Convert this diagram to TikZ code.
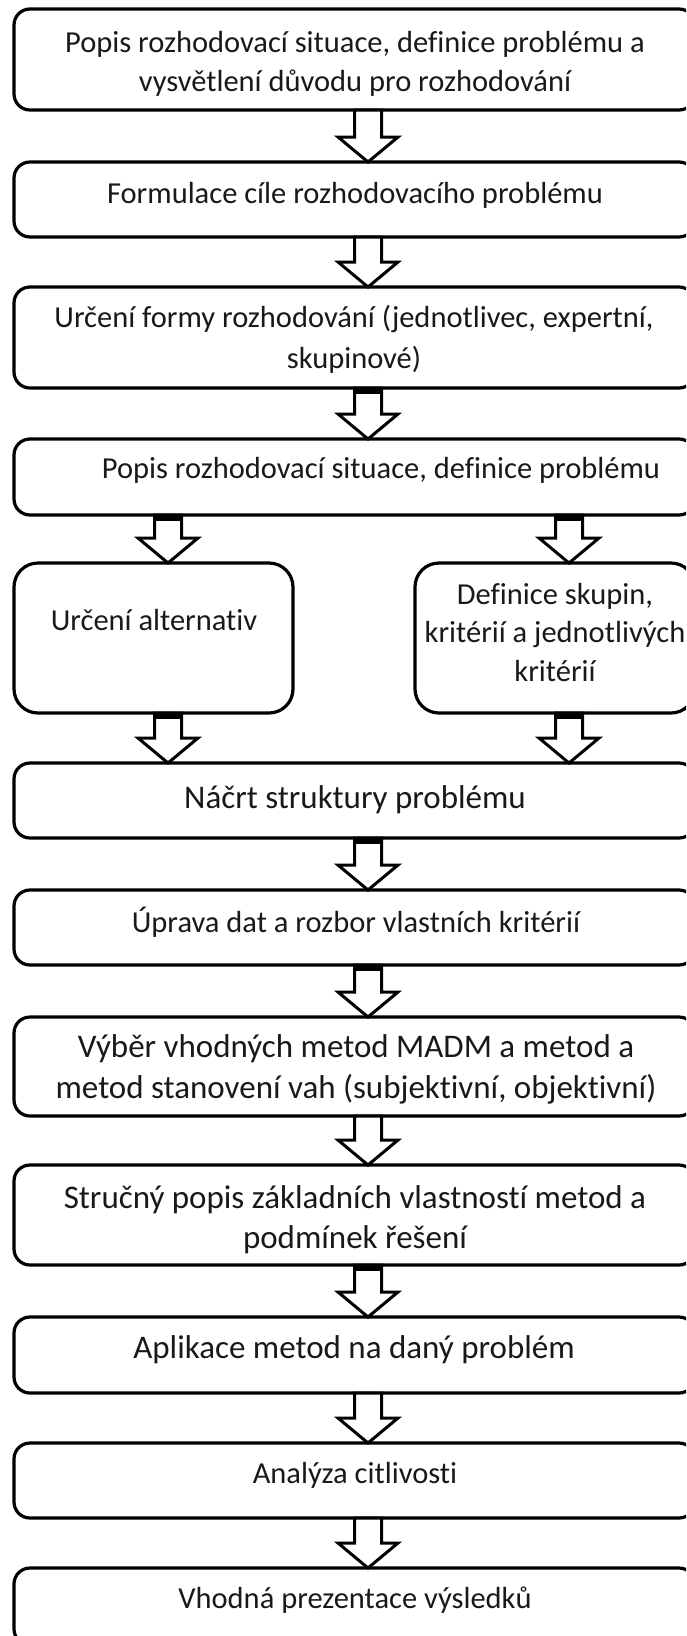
\documentclass[tikz,border=0pt]{standalone}
\usepackage{fontspec}
\setmainfont[Ligatures=NoCommon]{Carlito}
\usetikzlibrary{calc}

% hollow block arrow from the bottom of node #1 to the top of node #2, centred at x=#3
\newcommand\flowarrow[3]{%
  \draw[hollowarrow] let \p1=(#1.south), \p2=(#2.north) in
    ({#3pt-13.5pt},\y1) -- ({#3pt-13.5pt},{\y2+25pt}) -- ({#3pt-30pt},{\y2+25pt})
    -- ({#3pt},\y2) -- ({#3pt+30pt},{\y2+25pt}) -- ({#3pt+13.5pt},{\y2+25pt})
    -- ({#3pt+13.5pt},\y1) -- cycle;}
% same arrow with the dark band where the shaft meets the box above
\newcommand\flowarrowcap[3]{%
  \flowarrow{#1}{#2}{#3}%
  \fill let \p1=(#1.south) in ({#3pt-13.5pt},\y1) rectangle ({#3pt+13.5pt},{\y1-6pt});}

\begin{document}
\begin{tikzpicture}[x=1pt,y=-1pt,
  stepbox/.style={draw=black, line width=3.2pt, rounded corners=16pt,
    inner sep=0pt, outer sep=0pt, fill=white},
  splitbox/.style={stepbox, rounded corners=24pt},
  txt/.style={font=\fontsize{30.5}{36}\selectfont, inner sep=0pt, anchor=base, text=black!90},
  bigtxt/.style={txt, font=\fontsize{33}{40}\selectfont},
  hollowarrow/.style={draw=black, fill=white, line width=3pt, line join=miter}]

\useasboundingbox (0,0) rectangle (686,1636);
\clip (0,0) rectangle (686,1636);

% boxes
\node[stepbox, minimum width=681pt, minimum height=101pt] (b1) at (354.5,59.5) {};
\node[stepbox, minimum width=681pt, minimum height=75pt] (b2) at (354.5,199.5) {};
\node[stepbox, minimum width=681pt, minimum height=101pt] (b3) at (354.5,337.5) {};
\node[stepbox, minimum width=681pt, minimum height=76pt] (b4) at (354.5,477) {};
\node[splitbox, minimum width=279pt, minimum height=150pt] (bl) at (153.5,638) {};
\node[splitbox, minimum width=280pt, minimum height=150pt] (br) at (555,638) {};
\node[stepbox, minimum width=681pt, minimum height=75pt] (b6) at (354.5,800.5) {};
\node[stepbox, minimum width=681pt, minimum height=75pt] (b7) at (354.5,927.5) {};
\node[stepbox, minimum width=681pt, minimum height=99pt] (b8) at (354.5,1066.5) {};
\node[stepbox, minimum width=681pt, minimum height=100pt] (b9) at (354.5,1215) {};
\node[stepbox, minimum width=681pt, minimum height=76pt] (b10) at (354.5,1355) {};
\node[stepbox, minimum width=681pt, minimum height=75pt] (b11) at (354.5,1480.5) {};
\node[stepbox, minimum width=681pt, minimum height=77pt] (b12) at (354.5,1606.5) {};

% texts
\node[txt] (t1a) at (355,52) {Popis rozhodovací situace, definice problému a};
\node[txt] (t1b) at (355,91) {vysvětlení důvodu pro rozhodování};
\node[txt] (t2) at (355,203) {Formulace cíle rozhodovacího problému};
\node[txt] (t3a) at (354,327) {Určení formy rozhodování (jednotlivec, expertní,};
\node[txt] (t3b) at (354,368) {skupinové)};
\node[txt] (t4) at (381,478) {Popis rozhodovací situace, definice problému};
\node[txt] (tl) at (154,630) {Určení alternativ};
\node[txt] (tra) at (555,604) {Definice skupin,};
\node[txt] (trb) at (555,642) {kritérií a jednotlivých};
\node[txt] (trc) at (555,681) {kritérií};
\node[bigtxt] (t6) at (355,808) {Náčrt struktury problému};
\node[txt] (t7) at (356,932) {Úprava dat a rozbor vlastních kritérií};
\node[bigtxt] (t8a) at (356,1057) {Výběr vhodných metod MADM a metod a};
\node[bigtxt] (t8b) at (356,1098) {metod stanovení vah (subjektivní, objektivní)};
\node[bigtxt] (t9a) at (355,1208) {Stručný popis základních vlastností metod a};
\node[bigtxt] (t9b) at (355,1248) {podmínek řešení};
\node[bigtxt] (t10) at (354,1358) {Aplikace metod na daný problém};
\node[txt] (t11) at (355,1483) {Analýza citlivosti};
\node[txt] (t12) at (355,1608) {Vhodná prezentace výsledků};

% connectors
\flowarrow{b1}{b2}{368}
\flowarrow{b2}{b3}{368}
\flowarrowcap{b3}{b4}{368}
\flowarrowcap{b4}{bl}{168}
\flowarrowcap{b4}{br}{569}
\flowarrowcap{bl}{b6}{168}
\flowarrowcap{br}{b6}{569}
\flowarrowcap{b6}{b7}{368}
\flowarrowcap{b7}{b8}{368}
\flowarrow{b8}{b9}{368}
\flowarrowcap{b9}{b10}{368}
\flowarrow{b10}{b11}{368}
\flowarrow{b11}{b12}{368}
\end{tikzpicture}
\end{document}
